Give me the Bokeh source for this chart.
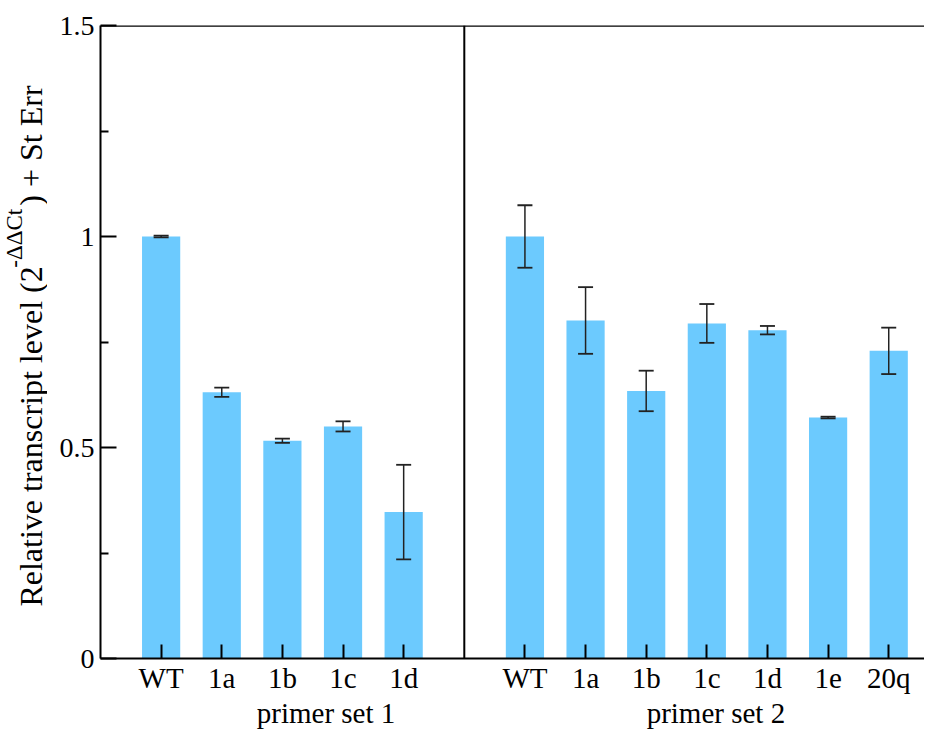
import math
from bokeh.plotting import figure
from bokeh.layouts import row
from bokeh.models import (ColumnDataSource, Range1d, FixedTicker, LinearAxis,
                          Span, Whisker, TeeHead)
from bokeh.core.properties import value
from bokeh.embed import file_html
from bokeh.resources import INLINE

# ---- data ----
set1_labels = ["WT", "1a", "1b", "1c", "1d"]
set1_values = [1.0, 0.631, 0.516, 0.550, 0.347]
set1_errors = [0.002, 0.011, 0.005, 0.012, 0.112]

set2_labels = ["WT", "1a", "1b", "1c", "1d", "1e", "20q"]
set2_values = [1.0, 0.801, 0.634, 0.794, 0.778, 0.571, 0.729]
set2_errors = [0.074, 0.079, 0.048, 0.046, 0.010, 0.002, 0.055]

group_labels = ["primer set 1", "primer set 2"]

y_ticks = [0, 0.5, 1, 1.5]
y_tick_labels = ["0", "0.5", "1", "1.5"]
y_minor_ticks = [0.25, 0.75, 1.25]

title_main = "Relative transcript level (2"
title_sup = "-\u0394\u0394Ct"
title_end = ") + St Err"

# ---- positions (slot index; one empty slot between the two sets) ----
x1 = [i + 1 for i in range(len(set1_labels))]
divider_x = len(set1_labels) + 1
x2 = [divider_x + i + 1 for i in range(len(set2_labels))]

xs = x1 + x2
vals = set1_values + set2_values
errs = set1_errors + set2_errors
src = ColumnDataSource(dict(
    x=xs, top=vals,
    upper=[v + e for v, e in zip(vals, errs)],
    lower=[v - e for v, e in zip(vals, errs)],
))

FONT = "Liberation Serif"
BAR = "#6ccafe"
H = 731
TW = 47  # width of the strip that carries the y-axis title

yr = Range1d(0, 1.5)
p = figure(width=924 - TW, height=H, output_backend="svg", toolbar_location=None,
           x_range=Range1d(0, 13.59), y_range=yr,
           min_border_left=100 - TW, min_border_right=0, min_border_top=25,
           min_border_bottom=71, x_axis_type=None, y_axis_type=None)
p.outline_line_color = None
p.xgrid.visible = False
p.ygrid.visible = False

p.vbar(x="x", top="top", width=0.63, bottom=0, source=src,
       fill_color=BAR, line_color=None)

whisk = Whisker(source=src, base="x", upper="upper", lower="lower",
                line_color="#222222", line_width=1.5, level="annotation",
                upper_head=TeeHead(size=15, line_color="#222222", line_width=1.8),
                lower_head=TeeHead(size=15, line_color="#222222", line_width=1.8))
p.add_layout(whisk)

# y axis
yax = LinearAxis(ticker=FixedTicker(ticks=y_ticks, minor_ticks=y_minor_ticks))
yax.major_label_overrides = {t: l for t, l in zip(y_ticks, y_tick_labels)}
yax.major_tick_in = 16
yax.major_tick_out = 0
yax.minor_tick_in = 8
yax.minor_tick_out = 0
yax.axis_line_width = 2
yax.major_tick_line_width = 2
yax.minor_tick_line_width = 2
yax.axis_line_color = "black"
yax.major_tick_line_color = "black"
yax.minor_tick_line_color = "black"
yax.major_label_text_font = FONT
yax.major_label_text_font_size = "28px"
yax.major_label_text_color = "black"
yax.major_label_standoff = 6
p.add_layout(yax, "left")

# x axis (categories)
xax = LinearAxis(ticker=FixedTicker(ticks=xs, minor_ticks=[]))
xax.major_label_overrides = {x: l for x, l in zip(xs, set1_labels + set2_labels)}
xax.major_tick_in = 14
xax.major_tick_out = 0
xax.axis_line_width = 2
xax.major_tick_line_width = 2
xax.axis_line_color = "black"
xax.major_tick_line_color = "black"
xax.major_label_text_font = FONT
xax.major_label_text_font_size = "29px"
xax.major_label_text_color = "black"
xax.major_label_standoff = 3
p.add_layout(xax, "below")

# group axis
group_pos = [3.72, 10.15]
gax = LinearAxis(ticker=FixedTicker(ticks=group_pos, minor_ticks=[]))
gax.major_label_overrides = {x: l for x, l in zip(group_pos, group_labels)}
gax.axis_line_color = None
gax.major_tick_line_color = None
gax.minor_tick_line_color = None
gax.major_tick_in = 0
gax.major_tick_out = 0
gax.major_label_text_font = FONT
gax.major_label_text_font_size = "29px"
gax.major_label_text_color = "black"
gax.major_label_standoff = 0
p.add_layout(gax, "below")

# top border line and divider
p.add_layout(Span(location=1.5, dimension="width", line_color="black", line_width=2.5))
p.add_layout(Span(location=divider_x, dimension="height", line_color="black", line_width=2))

# y-axis title strip: shares the value range so it lines up with the frame
t = figure(width=TW, height=H, output_backend="svg", toolbar_location=None,
           x_range=Range1d(0, TW), y_range=yr,
           min_border_left=0, min_border_right=0, min_border_top=25,
           min_border_bottom=71, x_axis_type=None, y_axis_type=None)
t.outline_line_color = None
t.xgrid.visible = False
t.ygrid.visible = False
common = dict(angle=math.pi / 2, text_align="left", text_baseline="middle",
              text_font=value(FONT), text_color="black")
t.text(x=[30], y=[0.123], text=[title_main], text_font_size=value("32px"), **common)
t.text(x=[14], y=[0.926], text=[title_sup], text_font_size=value("23px"), **common)
t.text(x=[30], y=[1.073], text=[title_end], text_font_size=value("32px"), **common)

layout = row(t, p)
open("out.html", "w").write(file_html(layout, INLINE))
